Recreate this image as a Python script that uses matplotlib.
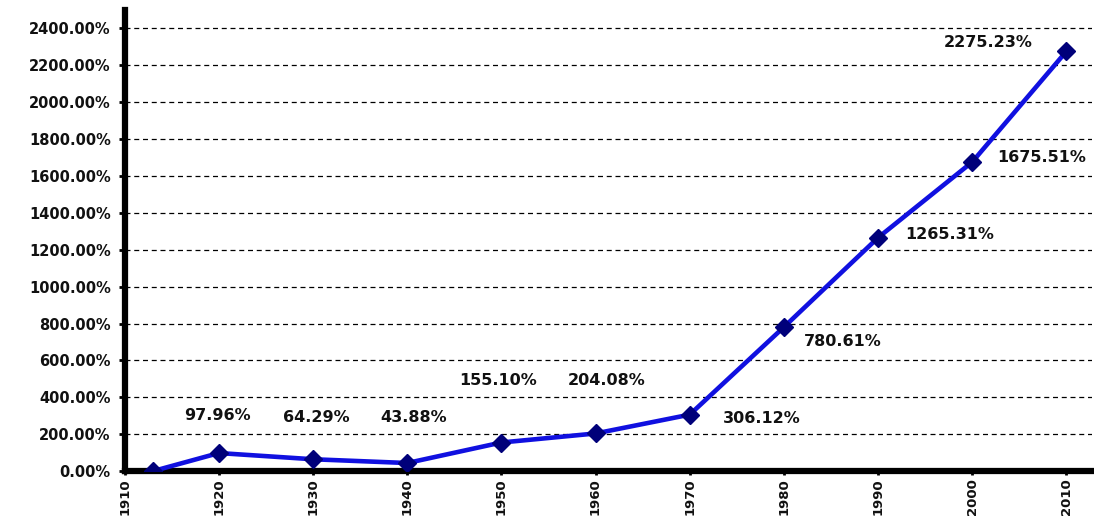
import matplotlib
matplotlib.use("Agg")
import matplotlib.pyplot as plt
from matplotlib.ticker import FuncFormatter

years = [1913, 1920, 1930, 1940, 1950, 1960, 1970, 1980, 1990, 2000, 2010]
values = [0.0, 97.96, 64.29, 43.88, 155.10, 204.08, 306.12, 780.61, 1265.31, 1675.51, 2275.23]
labels = ["", "97.96%", "64.29%", "43.88%", "155.10%", "204.08%", "306.12%",
          "780.61%", "1265.31%", "1675.51%", "2275.23%"]
label_offsets = [(0, 0), (-1, 38), (3, 42), (6, 46), (-3, 62), (11, 53), (72, -4),
                 (59, -14), (72, 3), (69, 4), (-78, 9)]
x_ticks = list(range(1910, 2011, 10))
y_ticks = list(range(0, 2401, 200))

plt.rcParams['font.family'] = ['DejaVu Sans']
fig = plt.figure(figsize=(10.94, 5.2), dpi=100)
ax = fig.add_axes([0.114, 0.094, 0.884, 0.887])

ax.plot(years, values, color='#1010e0', lw=3.3, zorder=3)
ax.plot(years, values, ls='none', marker='D', ms=9.5, color='#00007a', zorder=4)

for x, y, t, (dx, dy) in zip(years, values, labels, label_offsets):
    if t:
        ax.annotate(t, (x, y), xytext=(dx, dy), textcoords='offset pixels',
                    ha='center', va='center', fontsize=11.5, fontweight='bold', color='#111111')

ax.set_xlim(1910, 2012.7)
ax.set_ylim(0, 2500)
ax.set_xticks(x_ticks)
ax.set_yticks(y_ticks)
ax.yaxis.set_major_formatter(FuncFormatter(lambda v, p: f"{v:.2f}%"))
ax.tick_params(axis='y', labelsize=10.5, length=4, width=2, pad=6)
ax.tick_params(axis='x', labelsize=9.5, length=3, width=2, pad=2, labelrotation=90)
for lab in ax.get_xticklabels() + ax.get_yticklabels():
    lab.set_fontweight('bold')
    lab.set_color('#111111')

ax.grid(axis='y', color='black', lw=0.9, ls=(0, (4, 3)), zorder=1)
for s in ['top', 'right']:
    ax.spines[s].set_visible(False)
ax.spines['left'].set_linewidth(4.5)
ax.spines['bottom'].set_linewidth(4.5)
ax.set_axisbelow(True)

fig.savefig('out.png', dpi=100, facecolor='white')
